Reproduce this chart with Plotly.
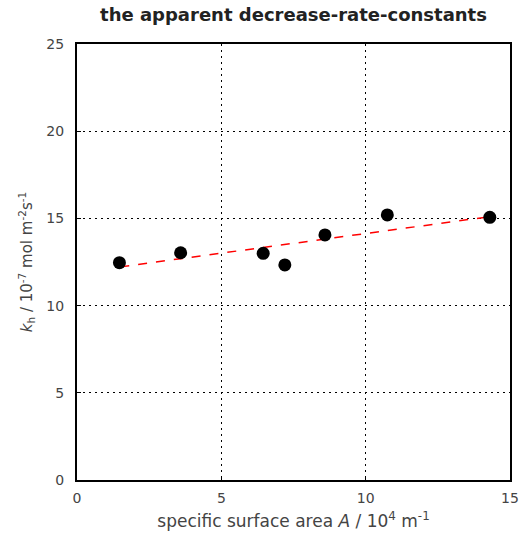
import plotly.graph_objects as go

# data
area = [1.47, 3.59, 6.45, 7.2, 8.59, 10.75, 14.3]
rate = [12.46, 13.03, 13.0, 12.33, 14.05, 15.2, 15.06]
fit_x = [1.5, 14.3]
fit_y = [12.22, 15.1]
x_ticks = [0, 5, 10, 15]
y_ticks = [0, 5, 10, 15, 20, 25]

FONT = "DejaVu Sans, Verdana, sans-serif"

fig = go.Figure()
fig.add_trace(go.Scatter(x=fit_x, y=fit_y, mode="lines",
                         line=dict(color="red", width=1.5, dash="dash"),
                         showlegend=False, hoverinfo="skip"))
fig.add_trace(go.Scatter(x=area, y=rate, mode="markers",
                         marker=dict(color="black", size=13, symbol="circle"),
                         showlegend=False))

axis_common = dict(
    showline=True, linecolor="black", linewidth=2, mirror=True,
    showgrid=True, gridcolor="black", gridwidth=1, griddash="2px,4px",
    zeroline=False, ticks="inside", ticklen=4, tickcolor="black",
    tickfont=dict(family=FONT, size=14, color="#444"),
    automargin=False,
)

fig.update_layout(
    width=522, height=540,
    margin=dict(l=77, r=12, t=44, b=60),
    paper_bgcolor="white", plot_bgcolor="white",
    title=dict(text="<b>the apparent decrease-rate-constants</b>",
               xref="paper", x=0.5, xanchor="center", y=0.972, yanchor="middle",
               font=dict(family=FONT, size=18, color="#222")),
    xaxis=dict(range=[0, 15], tickvals=x_ticks, ticklabelstandoff=4,
               title=dict(text="specific surface area <i>A</i> / 10<sup>4</sup> m<sup>-1</sup>",
                          font=dict(family=FONT, size=17, color="#444"),
                          standoff=10),
               **axis_common),
    yaxis=dict(range=[0, 25], tickvals=y_ticks, ticklabelstandoff=8,
               title=dict(text="<i>k</i><sub>h</sub> / 10<sup>-7</sup> mol m<sup>-2</sup>s<sup>-1</sup>",
                          font=dict(family=FONT, size=15, color="#444"),
                          standoff=10),
               **axis_common),
)

fig.write_html("out.html")
